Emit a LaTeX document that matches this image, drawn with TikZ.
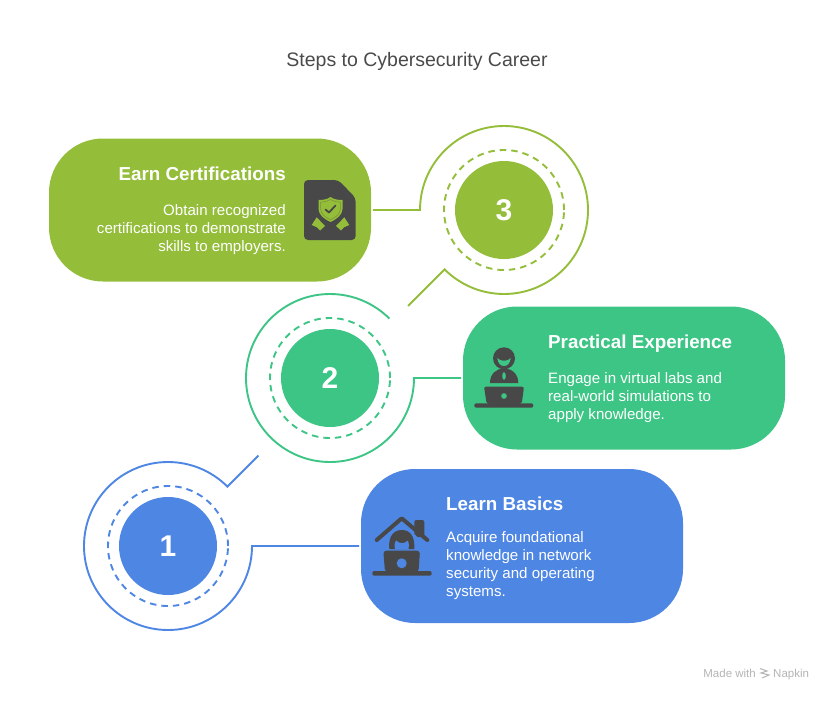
\documentclass[tikz,border=0pt]{standalone}
\usepackage{fontspec}
\setmainfont{Liberation Sans}
\usetikzlibrary{positioning}
\definecolor{stepblue}{HTML}{4E86E4}
\definecolor{stepteal}{HTML}{3DC585}
\definecolor{steplime}{HTML}{94BD3A}
\definecolor{icongrey}{HTML}{484848}
\definecolor{headgrey}{HTML}{4A4A4A}
\definecolor{markgrey}{HTML}{B4B4B4}
\tikzset{
	x=1pt, y=-1pt,
	pill/.style={fill=#1,
		    rounded corners=54pt,
		    minimum width=322pt,
		    outer sep=2pt},
	disc/.style={circle, fill=#1, text=white,
		    minimum size=98pt, inner sep=0pt, outer sep=0pt,
		    font=\fontsize{30}{30}\selectfont\bfseries},
	halo/.style={circle, draw=#1, line width=1.9pt,
		    dash pattern=on 6.5pt off 5pt,
		    minimum size=120pt, inner sep=0pt},
	ringout/.style={circle, minimum size=168pt, inner sep=0pt, outer sep=0pt},
	wire/.style={draw=#1, line width=1.9pt, line join=miter},
	heading/.style={text=white, inner sep=0pt,
		    font=\fontsize{18.8}{22}\selectfont\bfseries},
	blurb/.style={text=white, inner sep=0pt,
		    font=\fontsize{15.1}{18}\selectfont},
	marktext/.style={text=markgrey, inner sep=0pt,
		    font=\fontsize{11.5}{12}\selectfont}
}

\begin{document}
\begin{tikzpicture}
	\useasboundingbox (0,0) rectangle (834,701);

	\node [text=headgrey, font=\fontsize{19.5}{22}\selectfont] (header) at (417,61) {Steps to Cybersecurity Career};

	% the three steps
	\node [pill=stepblue, minimum height=154pt] (box1) at (522,546) {};
	\node [pill=stepteal, minimum height=143pt] (box2) at (624,378) {};
	\node [pill=steplime, minimum height=143pt] (box3) at (210,210) {};

	\node [disc=stepblue] (disc1) at (168,546) {1};
	\node [disc=stepteal] (disc2) at (330,378) {2};
	\node [disc=steplime] (disc3) at (504,210) {3};

	\node [halo=stepblue] (halo1) at (disc1) {};
	\node [halo=stepteal] (halo2) at (disc2) {};
	\node [halo=steplime] (halo3) at (disc3) {};

	\node [ringout] (ring1) at (disc1) {};
	\node [ringout] (ring2) at (disc2) {};
	\node [ringout] (ring3) at (disc3) {};

	\coordinate (tail1) at (258.5,455.5);
	\coordinate (tail3) at (408,306);

	\draw [wire=stepblue] (box1.west) -- (ring1.east) arc [start angle=0, end angle=-315, radius=84pt] -- (tail1);
	\draw [wire=stepteal] (box2.west) -- (ring2.east) arc [start angle=0, end angle=-315, radius=84pt];
	\draw [wire=steplime] (box3.east) -- (ring3.west) arc [start angle=180, end angle=-135, radius=84pt] -- (tail3);

	% texts
	\node [heading, anchor=base west] (title1) at (446,510.5) {Learn Basics};
	\node [blurb, anchor=north west, align=left] (text1) at (446,531.5) {Acquire foundational\\knowledge in network\\security and operating\\systems.};
	\node [heading, anchor=base west] (title2) at (548,348.5) {Practical Experience};
	\node [blurb, anchor=north west, align=left] (text2) at (548,372.5) {Engage in virtual labs and\\real-world simulations to\\apply knowledge.};
	\node [heading, anchor=base east] (title3) at (286,180.5) {Earn Certifications};
	\node [blurb, anchor=north east, align=right] (text3) at (286,204.5) {Obtain recognized\\certifications to demonstrate\\skills to employers.};

	% icon of step 3
	\fill [icongrey, rounded corners=4pt] (304,180) -- (338.3,180) -- (355.7,198) -- (355.7,240) -- (304,240) -- cycle;
	\fill [steplime] (330.5,197) .. controls (334,199.5) and (338,200) .. (342.5,200) -- (342.5,209) .. controls (342.5,215) and (336,219.5) .. (330.5,222) .. controls (325,219.5) and (318.5,215) .. (318.5,209) -- (318.5,200) .. controls (323,200) and (327,199.5) .. (330.5,197) -- cycle;
	\draw [icongrey!40!steplime, line width=0.5pt] (330.5,199.5) .. controls (333.5,201.5) and (337,202) .. (340.3,202.2) -- (340.3,209) .. controls (340.3,214) and (335.5,217.5) .. (330.5,219.7) .. controls (325.5,217.5) and (320.7,214) .. (320.7,209) -- (320.7,202.2) .. controls (324,202) and (327.5,201.5) .. (330.5,199.5) -- cycle;
	\draw [icongrey, line width=1.8pt, line cap=round, line join=round] (325.5,209.5) -- (329,212.5) -- (335.5,205.5);
	\fill [steplime] (316.7,217.3) -- (325,226) -- (320,230.5) -- (317,227.3) -- (311.7,225) -- cycle;
	\fill [steplime] (344.3,217.3) -- (336,226) -- (341,230.5) -- (344,227.3) -- (349.3,225) -- cycle;

	% icon of step 2
	\fill [icongrey] (504,358.3) circle [radius=11pt];
	\fill [stepteal] (497.3,358) .. controls (500,361.7) and (508,361.7) .. (510.7,358) .. controls (510,364) and (507,366) .. (504,366) .. controls (501,366) and (498,364) .. (497.3,358) -- cycle;
	\fill [icongrey] (490,383) .. controls (490,374) and (496,368.5) .. (504,368.5) .. controls (512,368.5) and (518.3,374) .. (518.3,383) -- cycle;
	\fill [stepteal] (504,376) ellipse [x radius=1.8pt, y radius=3.8pt];
	\fill [icongrey, rounded corners=2pt] (484,386.7) -- (524,386.7) -- (521.7,404) -- (486.7,404) -- cycle;
	\fill [stepteal] (504,396) circle [radius=2.8pt];
	\fill [icongrey, rounded corners=2pt] (474.3,403.3) rectangle (533.3,407.7);

	% icon of step 1
	\fill [icongrey, rounded corners=2pt] (414.3,520) rectangle (424.3,537);
	\draw [icongrey, line width=4pt, line cap=round, line join=round] (376.7,540) -- (401.7,518.3) -- (427.3,540);
	\fill [stepblue] (401.7,522) -- (370,551) -- (432,551) -- cycle;
	\fill [icongrey] (389.3,549) .. controls (388,536) and (394,530) .. (401.7,530) .. controls (410,530) and (415,536) .. (414.3,549) -- cycle;
	\fill [stepblue] (395,549) .. controls (394,544) and (395,542) .. (396,540.5) .. controls (400,544) and (404,544) .. (408,540.5) .. controls (409,543) and (409,545) .. (408.5,549) -- cycle;
	\fill [icongrey, rounded corners=3pt] (383.3,550.7) -- (420,550.7) -- (418.5,572) -- (385,572) -- cycle;
	\fill [stepblue] (401.7,563.3) circle [radius=5pt];
	\fill [icongrey, rounded corners=2pt] (372.3,571) rectangle (431.7,575.7);

	% made with
	\node [marktext, anchor=base east] (mark1) at (756,677) {Made with};
	\node [marktext, anchor=base west] (mark2) at (773,677) {Napkin};
	\draw [markgrey, line width=1pt] (760,668.5) -- (767,671) -- (761,673) -- (769,675) -- (762,678);
\end{tikzpicture}
\end{document}
